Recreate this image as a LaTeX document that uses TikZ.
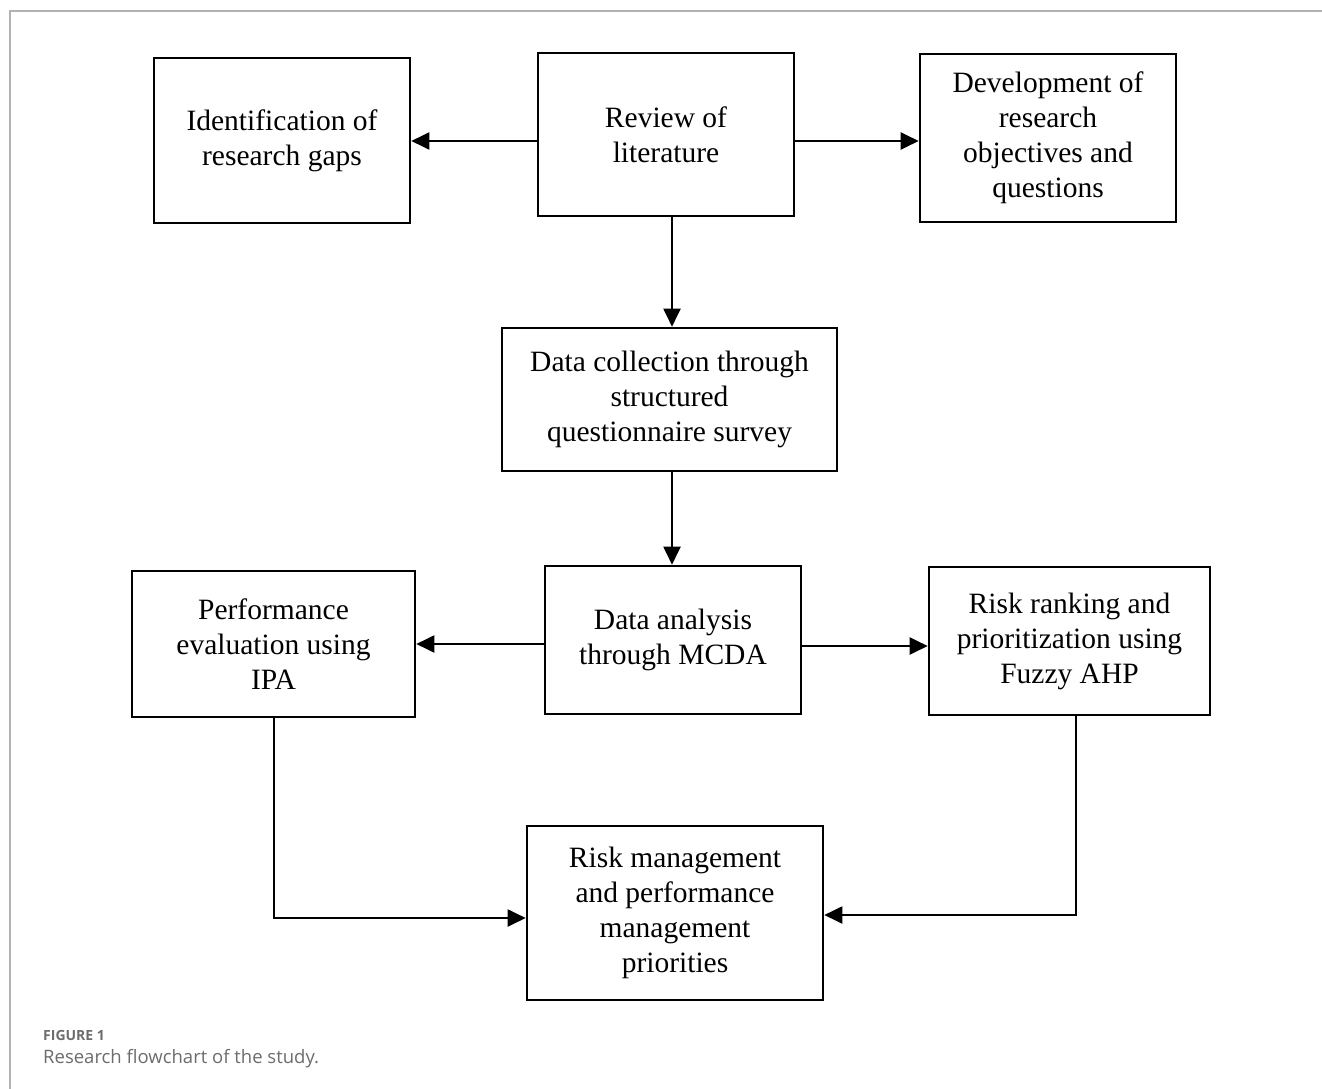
\documentclass[tikz,border=0pt]{standalone}
\usepackage{fontspec}
\setmainfont{Liberation Serif}
\newfontfamily\capfont{Open Sans}
\usetikzlibrary{arrows.meta}
\begin{document}
\begin{tikzpicture}[x=1pt,y=-1pt,
  boxstyle/.style={draw=black, line width=2.6pt, inner sep=0pt, align=center,
    font=\fontsize{29.5}{35}\selectfont},
  conn/.style={draw=black, line width=2pt, -{Triangle[length=18pt,width=17pt]}}]
\useasboundingbox (0,0) rectangle (1322,1089);
% frame
\draw[gray!60, line width=1.5pt] (1322,11) -- (10,11) -- (10,1089);
% boxes
\node[boxstyle, minimum width=256pt, minimum height=165pt] (gaps) at (282,140.5) {Identification of\\research gaps};
\node[boxstyle, minimum width=256pt, minimum height=163pt] (review) at (666,134.5) {Review of\\literature};
\node[boxstyle, minimum width=256pt, minimum height=168pt] (dev) at (1048,138) {Development of\\research\\objectives and\\questions};
\node[boxstyle, minimum width=335pt, minimum height=143pt] (collect) at (669.5,399.5) {Data collection through\\structured\\questionnaire survey};
\node[boxstyle, minimum width=283pt, minimum height=146pt] (perf) at (273.5,644) {Performance\\evaluation using\\IPA};
\node[boxstyle, minimum width=256pt, minimum height=148pt] (mcda) at (673,640) {Data analysis\\through MCDA};
\node[boxstyle, minimum width=281pt, minimum height=148pt] (rank) at (1069.5,641) {Risk ranking and\\prioritization using\\Fuzzy AHP};
\node[boxstyle, minimum width=296pt, minimum height=174pt] (mgmt) at (675,913) {Risk management\\and performance\\management\\priorities};
% connectors
\draw[conn] (review.west |- 0,141) -- (gaps.east |- 0,141);
\draw[conn] (review.east |- 0,141) -- (dev.west |- 0,141);
\draw[conn] (review.south -| 672,0) -- (collect.north -| 672,0);
\draw[conn] (collect.south -| 672,0) -- (mcda.north -| 672,0);
\draw[conn] (mcda.west |- 0,644) -- (perf.east |- 0,644);
\draw[conn] (mcda.east |- 0,646) -- (rank.west |- 0,646);
\draw[conn] (perf.south -| 274,0) -- (274,918) -- (mgmt.west |- 0,918);
\draw[conn] (rank.south -| 1076,0) -- (1076,915) -- (mgmt.east |- 0,915);
% caption
\node[anchor=base west, inner sep=0pt, text=gray!85!black, font=\capfont\fontsize{14}{16}\selectfont\bfseries] (figlabel) at (43,1040) {FIGURE 1};
\node[anchor=base west, inner sep=0pt, text=gray!85!black, font=\capfont\fontsize{18.5}{22}\selectfont] (figcap) at (43,1063) {Research flowchart of the study.};
\end{tikzpicture}
\end{document}
